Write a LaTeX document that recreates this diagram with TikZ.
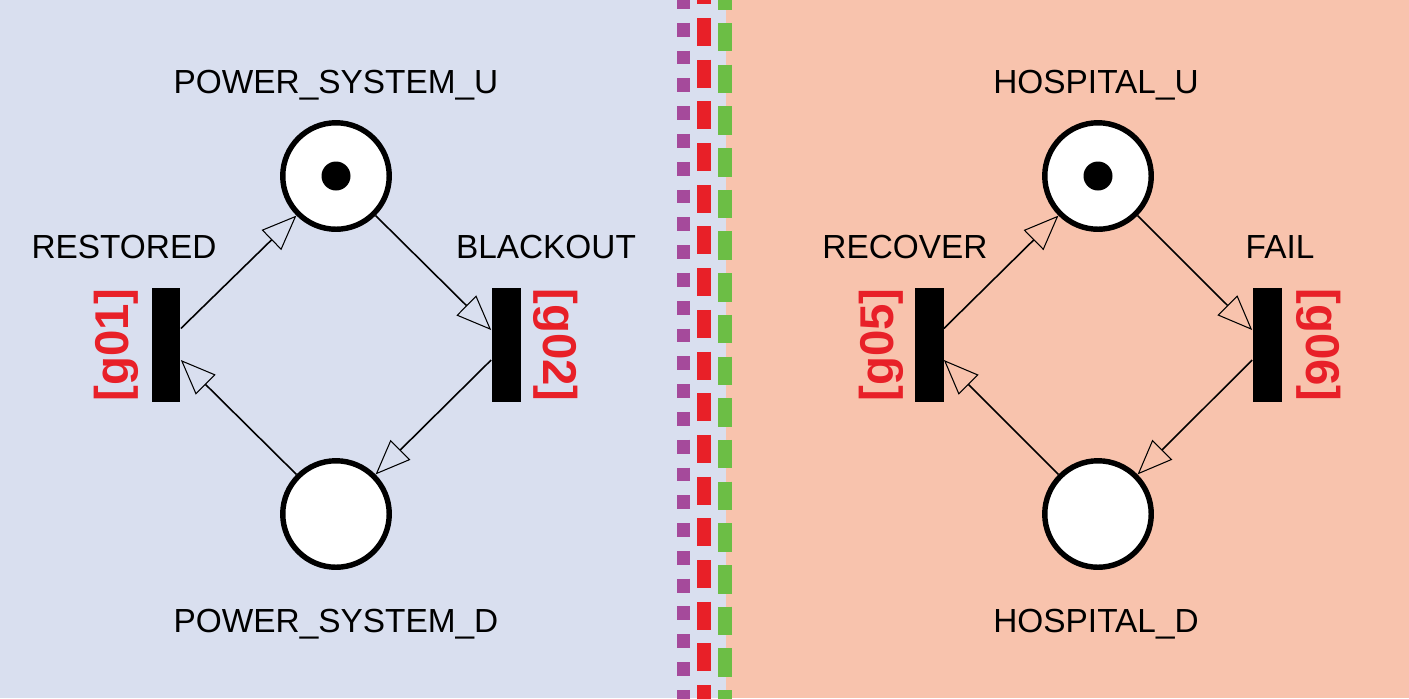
\documentclass[tikz,border=0pt]{standalone}
\usepackage{fontspec}
\setmainfont{Liberation Sans}
\usetikzlibrary{arrows.meta}

\definecolor{leftBack}{RGB}{217,223,239}
\definecolor{rightBack}{RGB}{248,195,173}
\definecolor{tagRed}{RGB}{232,32,40}
\definecolor{sepPurple}{RGB}{165,74,155}
\definecolor{sepRed}{RGB}{232,32,40}
\definecolor{sepGreen}{RGB}{108,190,69}

\begin{document}
\begin{tikzpicture}
[x=0.02cm,y=-0.02cm,
  placeDecorate/.style={shape=circle,draw,line width=3.1pt,fill=white,minimum size=2.13cm,inner sep=0pt},%
  tokenDecorate/.style={shape=circle,fill=black,minimum size=0.58cm,inner sep=0pt},%
  transDecorate/.style={shape=rectangle,fill=black,minimum width=0.58cm,minimum height=2.28cm,inner sep=0pt},%
  nameDecorate/.style={font=\fontsize{19}{22}\selectfont,anchor=base,inner sep=0pt},%
  tagDecorate/.style={font=\fontsize{27}{30}\selectfont\bfseries,text=tagRed,inner sep=0pt},%
  lineDecorate/.style={-{Triangle[open,length=0.7cm,width=0.56cm,line width=0.6pt]},line width=0.9pt}]
%% background and separators
\clip (0,0) rectangle (1409,698);
\fill[leftBack] (0,0) rectangle (726,698);
\fill[rightBack] (726,0) rectangle (1409,698);
\draw[sepPurple,line width=0.26cm,dash pattern=on 0.278cm off 0.278cm] (683.5,-5) -- (683.5,720);
\draw[sepRed,line width=0.28cm,dash pattern=on 0.56cm off 0.274cm] (704,-23.7) -- (704,720);
\draw[sepGreen,line width=0.28cm,dash pattern=on 0.57cm off 0.264cm] (725,-18.7) -- (725,720);
%% places
\foreach \nodename/\x/\y in {
  psu/336/176, psd/336/514, hsu/1098/176, hsd/1098/514}
{
  \node (\nodename) at (\x,\y) [placeDecorate] {};
}
%% tokens
\foreach \nodename in {psu, hsu}
{
  \node (tok\nodename) at (\nodename) [tokenDecorate] {};
}
%% transitions
\foreach \nodename/\x in {
  t01/166, t02/506, t05/929, t06/1267}
{
  \node (\nodename) at (\x,345) [transDecorate] {};
}
%% names
\node (npsu) at (336,93) [nameDecorate] {POWER\_SYSTEM\_U};
\node (npsd) at (336,632) [nameDecorate] {POWER\_SYSTEM\_D};
\node (nt01) at (124,258) [nameDecorate] {RESTORED};
\node (nt02) at (546,258) [nameDecorate] {BLACKOUT};
\node (nhsu) at (1096,93) [nameDecorate] {HOSPITAL\_U};
\node (nhsd) at (1096,632) [nameDecorate] {HOSPITAL\_D};
\node (nt05) at (905,258) [nameDecorate] {RECOVER};
\node (nt06) at (1280,258) [nameDecorate] {FAIL};
%% tags
\node (g01) at (116.5,345) [tagDecorate,rotate=90] {[g01]};
\node (g02) at (556,345) [tagDecorate,rotate=-90] {[g02]};
\node (g05) at (881,345) [tagDecorate,rotate=90] {[g05]};
\node (g06) at (1319,345) [tagDecorate,rotate=-90] {[g06]};
%% arcs
\foreach \up/\down/\tin/\tout in {psu/psd/t01/t02, hsu/hsd/t05/t06}
{
  \draw[lineDecorate] ([yshift=0.33cm]\tin.east) -- (\up.225);
  \draw[lineDecorate] (\up.-45) -- ([yshift=0.3cm]\tout.west);
  \draw[lineDecorate] ([yshift=-0.3cm]\tout.west) -- (\down.45);
  \draw[lineDecorate] (\down.135) -- ([yshift=-0.3cm]\tin.east);
}
\end{tikzpicture}
\end{document}
